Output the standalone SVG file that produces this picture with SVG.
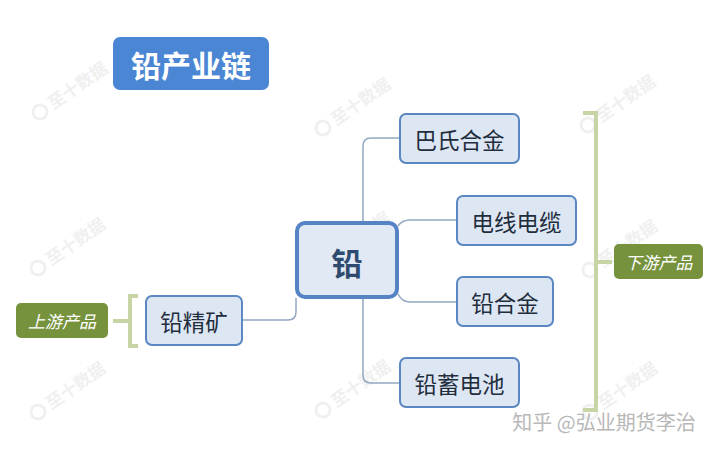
<svg xmlns="http://www.w3.org/2000/svg" width="720" height="450" viewBox="0 0 720 450">
<style>
.wm{font-family:"Noto Sans CJK SC","Noto Sans",sans-serif;font-size:17px;fill:#f0f0f0;font-weight:bold}
.wmc{fill:none;stroke:#f0f0f0;stroke-width:3}
.node rect{fill:#dde6f3;stroke:#5b87c2;stroke-width:2}
.node text{font-family:"Noto Sans CJK SC","Noto Sans",sans-serif;font-size:22.5px;fill:#1f2d3d;text-anchor:middle;dominant-baseline:central}
.conn path{fill:none;stroke:#93a8c2;stroke-width:1.5}
.br{fill:none;stroke:#c7d4a6;stroke-width:4}
.tag rect{fill:#76923c}
.tag text{font-family:"Noto Sans CJK SC","Noto Sans",sans-serif;font-size:17px;fill:#ffffff;font-style:italic;text-anchor:middle;dominant-baseline:central}
</style>
<rect width="720" height="450" fill="#ffffff"/>
<g id="watermarks">
<g transform="translate(40,112) rotate(-35)"><circle class="wmc" cx="0" cy="0" r="7"/><text class="wm" x="12" y="6">至十数据</text></g>
<g transform="translate(323,128) rotate(-35)"><circle class="wmc" cx="0" cy="0" r="7"/><text class="wm" x="12" y="6">至十数据</text></g>
<g transform="translate(588,125) rotate(-35)"><circle class="wmc" cx="0" cy="0" r="7"/><text class="wm" x="12" y="6">至十数据</text></g>
<g transform="translate(38,268) rotate(-35)"><circle class="wmc" cx="0" cy="0" r="7"/><text class="wm" x="12" y="6">至十数据</text></g>
<g transform="translate(323,262) rotate(-35)"><circle class="wmc" cx="0" cy="0" r="7"/><text class="wm" x="12" y="6">至十数据</text></g>
<g transform="translate(590,270) rotate(-35)"><circle class="wmc" cx="0" cy="0" r="7"/><text class="wm" x="12" y="6">至十数据</text></g>
<g transform="translate(38,412) rotate(-35)"><circle class="wmc" cx="0" cy="0" r="7"/><text class="wm" x="12" y="6">至十数据</text></g>
<g transform="translate(323,410) rotate(-35)"><circle class="wmc" cx="0" cy="0" r="7"/><text class="wm" x="12" y="6">至十数据</text></g>
<g transform="translate(590,412) rotate(-35)"><circle class="wmc" cx="0" cy="0" r="7"/><text class="wm" x="12" y="6">至十数据</text></g>
</g>
<g id="title">
<rect x="113" y="37" width="156" height="53" rx="7" fill="#4a86d3"/>
<text x="191" y="64" font-family="Noto Sans CJK SC, Noto Sans, sans-serif" font-size="30" font-weight="bold" fill="#ffffff" text-anchor="middle" dominant-baseline="central">铅产业链</text>
</g>
<g id="connectors" class="conn">
<path d="M363 222 V146 Q363 138 371 138 H400"/>
<path d="M398 226 Q402 220 410 220 H457"/>
<path d="M398 294 Q402 302 410 302 H457"/>
<path d="M363 298 V375 Q363 383 371 383 H400"/>
<path d="M242 320 H288 Q296 320 296 312 V298"/>
</g>
<g id="brackets">
<path class="br" d="M138 296 H130 V346 H138"/>
<path class="br" d="M113 321 H130"/>
<path class="br" d="M583 113 H596 V410 H583"/>
<path class="br" d="M596 262 H612"/>
</g>
<g id="node-center">
<rect x="297" y="223" width="100" height="74" rx="8" fill="#e1e9f5" stroke="#5583c4" stroke-width="4"/>
<text x="347" y="261" font-family="Noto Sans CJK SC, Noto Sans, sans-serif" font-size="31" font-weight="bold" fill="#2e4a6e" text-anchor="middle" dominant-baseline="central">铅</text>
</g>
<g id="node-babbitt" class="node"><rect x="400" y="114" width="119" height="49" rx="6"/><text x="459.5" y="138.5">巴氏合金</text></g>
<g id="node-cable" class="node"><rect x="457" y="196" width="119" height="49" rx="6"/><text x="516.5" y="220.5">电线电缆</text></g>
<g id="node-alloy" class="node"><rect x="457" y="277" width="96" height="49" rx="6"/><text x="505" y="301.5">铅合金</text></g>
<g id="node-battery" class="node"><rect x="400" y="358" width="119" height="49" rx="6"/><text x="459.5" y="382.5">铅蓄电池</text></g>
<g id="node-ore" class="node"><rect x="146" y="296" width="96" height="49" rx="6"/><text x="194" y="320.5">铅精矿</text></g>
<g id="tag-upstream" class="tag"><rect x="16" y="303" width="92" height="35" rx="5"/><text x="62" y="320.5">上游产品</text></g>
<g id="tag-downstream" class="tag"><rect x="614" y="244" width="89" height="35" rx="5"/><text x="658.5" y="261.5">下游产品</text></g>
<g id="credit">
<text x="604" y="421" font-family="Noto Sans CJK SC, Noto Sans, sans-serif" font-size="20" fill="#b8b8b8" text-anchor="middle" dominant-baseline="central">知乎 @弘业期货李治</text>
</g>
</svg>
